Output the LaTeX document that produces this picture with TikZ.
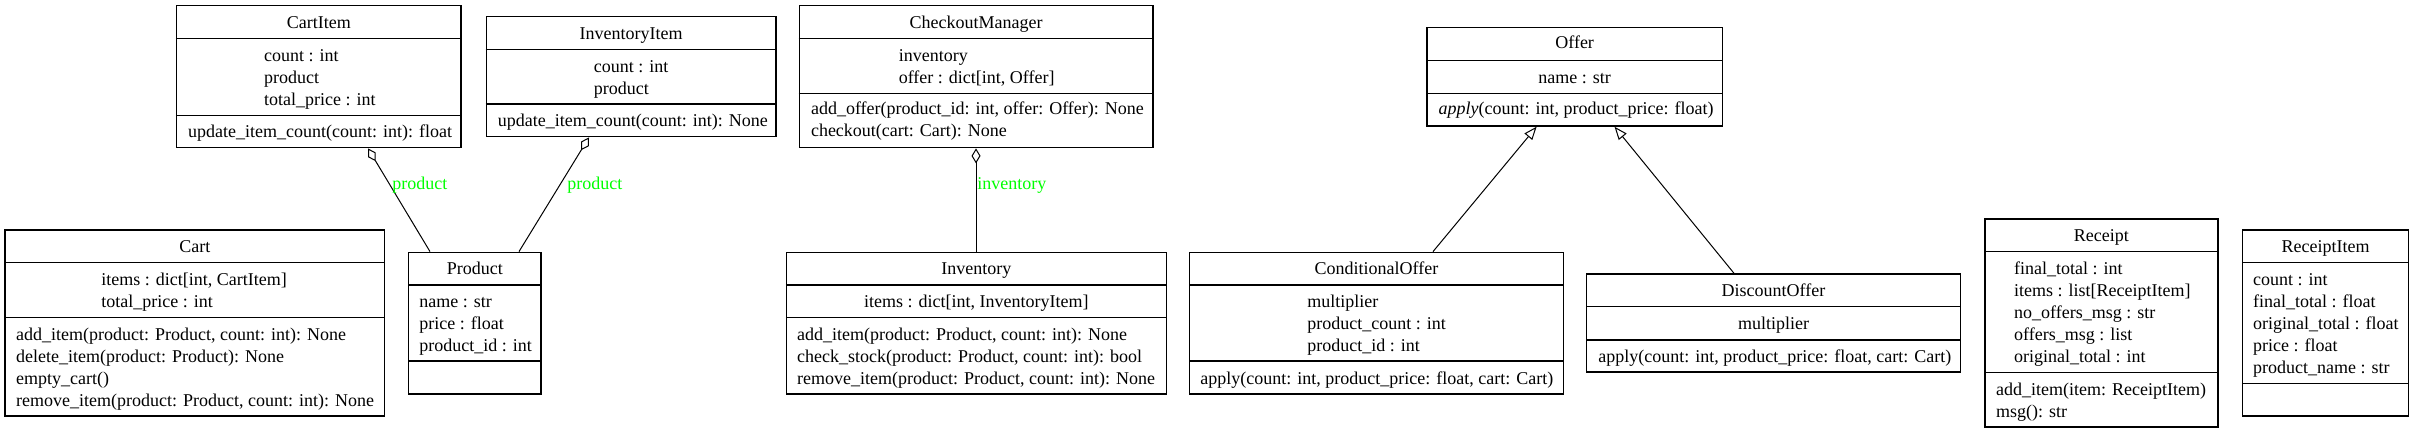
\documentclass[tikz,border=0pt]{standalone}
\usepackage{fontspec}
\setmainfont{Liberation Serif}
\usetikzlibrary{arrows.meta,calc,fit}
\definecolor{lblgreen}{RGB}{0,255,0}
\tikzset{
  box/.style={draw, line width=0.7pt, inner sep=0pt},
  sepline/.style={line width=0.7pt},
  txt/.style={anchor=base west, inner sep=0pt, font=\fontsize{9}{11}\selectfont},
  ctxt/.style={txt, anchor=base},
  lbl/.style={txt, text=lblgreen},
  agg/.style={line width=0.5pt, {Diamond[open, length=7.5pt, width=4.5pt]}-},
  gen/.style={line width=0.5pt, -{Triangle[open, length=6.5pt, width=5pt]}},
}
% name, x1, y1, x2, y2, sep1, sep2
\newcommand\umlclass[7]{%
  \node[box, fit={(#2,#3) (#4,#5)}] (#1) {};
  \draw[sepline] (#1.west |- 0,#6) -- (#1.east |- 0,#6);
  \draw[sepline] (#1.west |- 0,#7) -- (#1.east |- 0,#7);
}
% prefix, x, first centre y, list
\newcommand\tlines[4]{%
  \foreach \t [count=\i] in {#4} {\node[txt] (#1\i) at ({#2},{#3+5+(\i-1)*22}) {\t};}
}
\begin{document}
\begin{tikzpicture}[x=0.5pt, y=-0.5pt]
\useasboundingbox (0,0) rectangle (2414,433);

% CartItem
\umlclass{cartitem}{176.5}{5.7}{461}{147.7}{38.3}{115.3}
\node[ctxt] (cartitem-t) at (318.75,28.3) {CartItem};
\tlines{cartitem-a}{263.8}{56.7}{count : int, product, total\_price : int}
\tlines{cartitem-m}{187.8}{132.7}{update\_item\_count(count: int): float}

% InventoryItem
\umlclass{invitem}{486.2}{16.7}{776}{136.7}{49.3}{104}
\node[ctxt] (invitem-t) at (631.1,39.3) {InventoryItem};
\tlines{invitem-a}{593.4}{67.7}{count : int, product}
\tlines{invitem-m}{497.4}{121.7}{update\_item\_count(count: int): None}

% Cart
\umlclass{cart}{5.1}{230}{384.7}{416}{262.7}{317.7}
\node[ctxt] (cart-t) at (194.9,252.3) {Cart};
\tlines{cart-a}{101}{280.3}{{items : dict[int, CartItem]}, total\_price : int}
\tlines{cart-m}{15.8}{335}{{add\_item(product: Product, count: int): None}, delete\_item(product: Product): None, empty\_cart(), {remove\_item(product: Product, count: int): None}}

% Product
\umlclass{product}{408.7}{252.3}{540.8}{394}{285}{361}
\node[ctxt] (product-t) at (474.75,274.3) {Product};
\tlines{product-a}{419}{302.3}{name : str, price : float, product\_id : int}

% CheckoutManager
\umlclass{checkout}{799.4}{5.7}{1153}{147.7}{38.3}{93.3}
\node[ctxt] (checkout-t) at (976.2,28.3) {CheckoutManager};
\tlines{checkout-a}{898.4}{56.7}{inventory, {offer : dict[int, Offer]}}
\tlines{checkout-m}{810.6}{110}{{add\_offer(product\_id: int, offer: Offer): None}, checkout(cart: Cart): None}

% Inventory
\umlclass{inventory}{786.6}{252.3}{1166.2}{394}{285}{317.7}
\node[ctxt] (inventory-t) at (976.4,274.3) {Inventory};
\node[ctxt] (inventory-a1) at (976.4,307.3) {items : dict[int, InventoryItem]};
\tlines{inventory-m}{796.8}{335}{{add\_item(product: Product, count: int): None}, {check\_stock(product: Product, count: int): bool}, {remove\_item(product: Product, count: int): None}}

% ConditionalOffer
\umlclass{condoffer}{1189.7}{252.3}{1563.2}{394}{285}{361}
\node[ctxt] (condoffer-t) at (1376.45,274.3) {ConditionalOffer};
\tlines{condoffer-a}{1307}{302.3}{multiplier, product\_count : int, product\_id : int}
\tlines{condoffer-m}{1200}{379.3}{{apply(count: int, product\_price: float, cart: Cart)}}

% Offer
\umlclass{offer}{1427}{27.7}{1722.3}{126}{60.7}{93.3}
\node[ctxt] (offer-t) at (1574.65,49) {Offer};
\node[ctxt] (offer-a1) at (1574.65,83.7) {name : str};
\tlines{offer-m}{1438.2}{110}{{\textit{apply}(count: int, product\_price: float)}}

% DiscountOffer
\umlclass{discoffer}{1586.7}{274}{1960.3}{372}{306.7}{340}
\node[ctxt] (discoffer-t) at (1773.5,296.7) {DiscountOffer};
\node[ctxt] (discoffer-a1) at (1773.5,329.3) {multiplier};
\tlines{discoffer-m}{1598}{357.7}{{apply(count: int, product\_price: float, cart: Cart)}}

% Receipt
\umlclass{receipt}{1984.8}{219}{2218}{427}{251.7}{372.7}
\node[ctxt] (receipt-t) at (2101.4,241.7) {Receipt};
\tlines{receipt-a}{2013.7}{269.3}{final\_total : int, {items : list[ReceiptItem]}, no\_offers\_msg : str, offers\_msg : list, original\_total : int}
\tlines{receipt-m}{1995.7}{390}{add\_item(item: ReceiptItem), msg(): str}

% ReceiptItem
\umlclass{receiptitem}{2242.5}{230}{2408.6}{416}{262.7}{383.3}
\node[ctxt] (receiptitem-t) at (2325.55,252.3) {ReceiptItem};
\tlines{receiptitem-a}{2252.8}{280.3}{count : int, final\_total : float, original\_total : float, price : float, product\_name : str}

% Connectors
\draw[agg] (cartitem.south -| 368,0) -- (product.north -| 430,0);
\node[lbl] (lbl-ci) at (392,189) {product};
\draw[agg] (invitem.south -| 589,0) -- (product.north -| 519,0);
\node[lbl] (lbl-ii) at (567,189) {product};
\draw[agg] (checkout.south -| 976,0) -- (inventory.north -| 976,0);
\node[lbl] (lbl-inv) at (977,189) {inventory};
\draw[gen] (condoffer.north -| 1433,0) -- (offer.south -| 1536.6,0);
\draw[gen] (discoffer.north -| 1734,0) -- (offer.south -| 1614.5,0);
\end{tikzpicture}
\end{document}
